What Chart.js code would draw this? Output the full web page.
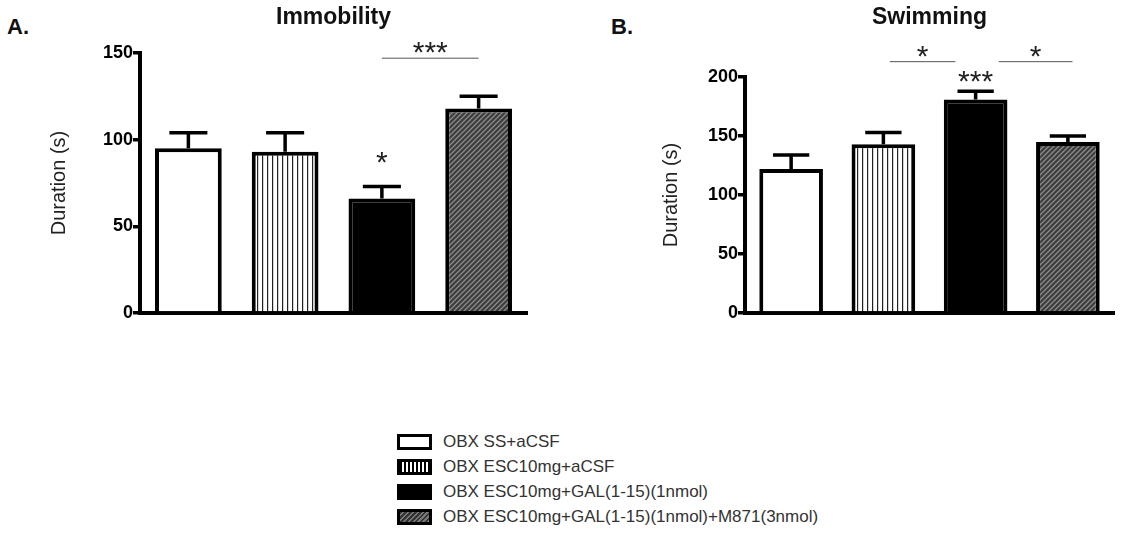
<!DOCTYPE html>
<html>
<head>
<meta charset="utf-8">
<script src="https://cdn.jsdelivr.net/npm/chart.js@4.4.1/dist/chart.umd.min.js"></script>
<style>
  body { margin: 0; background: #fff; width: 1123px; height: 554px; position: relative; overflow: hidden; font-family: "Liberation Sans", Arial, sans-serif; }
  .wrap { position: absolute; top: 0; height: 340px; }
  .letter { position: absolute; font-weight: bold; font-size: 22px; color: #111; }
  #legend { position: absolute; left: 397px; top: 429px; }
  .row { height: 25px; display: flex; align-items: center; font-size: 17px; color: #333; }
  .sw { width: 29px; height: 10px; border: 3px solid #000; margin-right: 11px; }
</style>
</head>
<body>
<div class="letter" style="left:7px;top:14px;">A.</div>
<div class="letter" style="left:611px;top:14px;">B.</div>
<div class="wrap" style="left:0;width:560px;"><canvas id="immobility"></canvas></div>
<div class="wrap" style="left:560px;width:563px;"><canvas id="swimming"></canvas></div>
<div id="legend"></div>
<script>
const groups = [
  "OBX SS+aCSF",
  "OBX ESC10mg+aCSF",
  "OBX ESC10mg+GAL(1-15)(1nmol)",
  "OBX ESC10mg+GAL(1-15)(1nmol)+M871(3nmol)"
];
const immobilityMean = [95, 93, 66, 118];
const immobilitySem = [9, 11, 7, 7];
const swimmingMean = [122, 143, 181, 145];
const swimmingSem = [12, 10, 7, 5];

// significance marks: bracket from/to are category indexes
const immobilityBrackets = [{ from: 2, to: 3, y: 147, label: "***" }];
const immobilityStars = [{ at: 2, y: 91, label: "*" }];
const swimmingBrackets = [
  { from: 1.07, to: 1.78, y: 213, label: "*" },
  { from: 2.25, to: 3.05, y: 213, label: "*" }
];
const swimmingStars = [{ at: 2, y: 203, label: "***" }];

function makePattern(kind) {
  let c = document.createElement('canvas');
  let g = c.getContext('2d');
  if (kind === 'stripes') {
    c.width = 5; c.height = 5;
    g.fillStyle = '#fff';
    g.fillRect(0, 0, 5, 5);
    g.fillStyle = '#222';
    g.fillRect(2, 0, 1.2, 5);
  } else {
    c.width = 5; c.height = 5;
    g.fillStyle = '#3c3c3c';
    g.fillRect(0, 0, 5, 5);
    g.strokeStyle = '#8c8c8c';
    g.lineWidth = 1.3;
    g.beginPath();
    g.moveTo(0, 5); g.lineTo(5, 0);
    g.moveTo(-2.5, 2.5); g.lineTo(2.5, -2.5);
    g.moveTo(2.5, 7.5); g.lineTo(7.5, 2.5);
    g.stroke();
  }
  return g.createPattern(c, 'repeat');
}

const fills = ['#fff', makePattern('stripes'), '#000', makePattern('hatch')];

let errorBars = {
  id: 'errorBars',
  afterDatasetsDraw(chart, args, opts) {
    let ctx = chart.ctx;
    let meta = chart.getDatasetMeta(0);
    let yScale = chart.scales.y;
    ctx.save();
    ctx.strokeStyle = '#000';
    ctx.lineWidth = 3.5;
    meta.data.forEach(function(bar, i) {
      let v = chart.data.datasets[0].data[i];
      let top = yScale.getPixelForValue(v + opts.sem[i]);
      let base = yScale.getPixelForValue(v);
      let half = bar.width * 0.285;
      ctx.beginPath();
      ctx.moveTo(bar.x, base);
      ctx.lineTo(bar.x, top);
      ctx.moveTo(bar.x - half, top);
      ctx.lineTo(bar.x + half, top);
      ctx.stroke();
    });
    ctx.restore();
  }
};

let sigMarks = {
  id: 'sigMarks',
  afterDatasetsDraw(chart, args, opts) {
    let ctx = chart.ctx;
    let xs = chart.scales.x, ys = chart.scales.y;
    let step = xs.getPixelForValue(1) - xs.getPixelForValue(0);
    let px = function(i) { return xs.getPixelForValue(0) + i * step; };
    let size = 30;
    // asterisk sits high in the em box, shift so its middle lands on the target
    let lift = size * 0.57;
    ctx.save();
    ctx.fillStyle = '#222';
    ctx.textAlign = 'center';
    ctx.textBaseline = 'alphabetic';
    ctx.font = size + 'px "Liberation Sans", Arial';
    (opts.brackets || []).forEach(function(b) {
      let y = ys.getPixelForValue(b.y);
      ctx.strokeStyle = '#555';
      ctx.lineWidth = 1;
      ctx.beginPath();
      ctx.moveTo(px(b.from), y);
      ctx.lineTo(px(b.to), y);
      ctx.stroke();
      ctx.fillText(b.label, (px(b.from) + px(b.to)) / 2, y - 13 + lift);
    });
    (opts.stars || []).forEach(function(s) {
      ctx.fillText(s.label, px(s.at), ys.getPixelForValue(s.y) + lift);
    });
    ctx.restore();
  }
};

function makeChart(id, title, means, sems, yMax, padLeft, padRight, titleGap, axisTitlePad, brackets, stars) {
  return new Chart(document.getElementById(id), {
    type: 'bar',
    data: {
      labels: groups,
      datasets: [{
        data: means,
        backgroundColor: fills,
        borderColor: '#000',
        borderWidth: 4,
        borderSkipped: 'bottom',
        barPercentage: 0.69,
        categoryPercentage: 1.0
      }]
    },
    options: {
      responsive: false,
      animation: false,
      devicePixelRatio: 1,
      layout: { padding: { left: padLeft, right: padRight, top: 0, bottom: 0 } },
      plugins: {
        legend: { display: false },
        tooltip: { enabled: false },
        title: {
          display: true,
          text: title,
          fullSize: false,
          color: '#111',
          font: { family: '"Liberation Sans", Arial', size: 23, weight: 'bold' },
          padding: { top: 4, bottom: titleGap }
        },
        errorBars: { sem: sems },
        sigMarks: { brackets: brackets, stars: stars }
      },
      scales: {
        x: {
          grid: { display: false },
          border: { display: true, color: '#000', width: 4 },
          ticks: { display: false },
          afterFit: function(scale) { scale.height = 27; }
        },
        y: {
          min: 0,
          max: yMax,
          ticks: {
            stepSize: 50,
            color: '#000',
            padding: 0,
            font: { family: '"Liberation Sans", Arial', size: 18, weight: 'bold' }
          },
          grid: { drawOnChartArea: false, drawTicks: true, tickLength: 7, color: '#000', lineWidth: 3.5 },
          border: { display: true, color: '#000', width: 4 },
          title: {
            display: true,
            text: 'Duration (s)',
            color: '#222',
            padding: { top: axisTitlePad, bottom: 0 },
            font: { family: '"Liberation Sans", Arial', size: 20 }
          },
          afterFit: function(scale) { scale.width = 100; }
        }
      }
    },
    plugins: [errorBars, sigMarks]
  });
}

document.getElementById('immobility').width = 560;
document.getElementById('immobility').height = 340;
document.getElementById('swimming').width = 563;
document.getElementById('swimming').height = 340;

makeChart('immobility', 'Immobility', immobilityMean, immobilitySem, 150, 40, 33, 21.4, 7, immobilityBrackets, immobilityStars);
makeChart('swimming', 'Swimming', swimmingMean, swimmingSem, 200, 85, 9, 45.4, 14, swimmingBrackets, swimmingStars);

// legend
let swatchCss = [
  'background:#fff;',
  'background:repeating-linear-gradient(90deg,#000 0 2px,#fff 2px 4px);',
  'background:#000;',
  'background:repeating-linear-gradient(-45deg,#777 0 1.5px,#333 1.5px 3.5px);'
];
let legend = document.getElementById('legend');
groups.forEach(function(name, i) {
  let row = document.createElement('div');
  row.className = 'row';
  row.innerHTML = '<div class="sw" style="' + swatchCss[i] + '"></div><span>' + name + '</span>';
  legend.appendChild(row);
});
</script>
</body>
</html>
